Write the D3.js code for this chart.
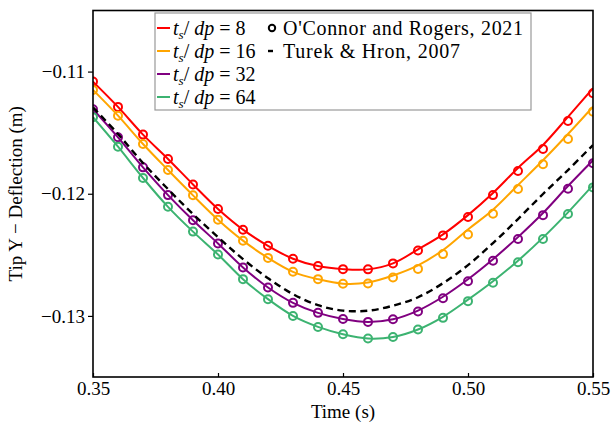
<!DOCTYPE html>
<html>
<head>
<meta charset="utf-8">
<script src="https://d3js.org/d3.v7.min.js"></script>
<style>
    body { margin: 0; background: #fff; }
    text { font-family: "Liberation Serif", "DejaVu Serif", serif; }
</style>
</head>
<body>
<div class="chart"></div>
<script>
// sample times (s)
var times = [0.35, 0.36, 0.37, 0.38, 0.39, 0.40, 0.41, 0.42, 0.43, 0.44, 0.45,
    0.46, 0.47, 0.48, 0.49, 0.50, 0.51, 0.52, 0.53, 0.54, 0.55];

// simulation lines, tip y deflection (m)
var line8 = [-0.11082, -0.11289, -0.11516, -0.11715, -0.11924, -0.12125, -0.12294, -0.12426, -0.12532, -0.12592, -0.12617,
    -0.12619, -0.12570, -0.12456, -0.12333, -0.12175, -0.11994, -0.11789, -0.11601, -0.11371, -0.11136];
var line16 = [-0.11150, -0.11361, -0.11593, -0.11806, -0.12013, -0.12212, -0.12384, -0.12525, -0.12639, -0.12699, -0.12736,
    -0.12726, -0.12669, -0.12586, -0.12461, -0.12292, -0.12131, -0.11929, -0.11726, -0.11511, -0.11287];
var line32 = [-0.11308, -0.11538, -0.11784, -0.12011, -0.12217, -0.12407, -0.12603, -0.12767, -0.12893, -0.12975, -0.13025,
    -0.13049, -0.13027, -0.12956, -0.12843, -0.12700, -0.12536, -0.12355, -0.12158, -0.11937, -0.11726];
var line64 = [-0.11374, -0.11615, -0.11871, -0.12107, -0.12310, -0.12497, -0.12699, -0.12863, -0.13000, -0.13090, -0.13150,
    -0.13185, -0.13172, -0.13111, -0.13007, -0.12867, -0.12716, -0.12548, -0.12359, -0.12152, -0.11929];

// O'Connor and Rogers, 2021 (circles)
var circles8 = [-0.11082, -0.11289, -0.11516, -0.11715, -0.11924, -0.12125, -0.12294, -0.12426, -0.12532, -0.12592, -0.12617,
    -0.12619, -0.12570, -0.12464, -0.12341, -0.12191, -0.12011, -0.11814, -0.11634, -0.11404, -0.11177];
var circles16 = [-0.11150, -0.11361, -0.11593, -0.11806, -0.12013, -0.12212, -0.12384, -0.12525, -0.12639, -0.12699, -0.12736,
    -0.12734, -0.12685, -0.12615, -0.12494, -0.12333, -0.12164, -0.11961, -0.11759, -0.11552, -0.11328];
var circles32 = [-0.11308, -0.11538, -0.11784, -0.12011, -0.12217, -0.12407, -0.12603, -0.12767, -0.12893, -0.12975, -0.13025,
    -0.13049, -0.13027, -0.12964, -0.12855, -0.12716, -0.12549, -0.12371, -0.12175, -0.11959, -0.11751];
var circles64 = [-0.11374, -0.11615, -0.11871, -0.12107, -0.12310, -0.12497, -0.12699, -0.12863, -0.13000, -0.13090, -0.13150,
    -0.13185, -0.13172, -0.13111, -0.13016, -0.12879, -0.12728, -0.12560, -0.12371, -0.12166, -0.11948];

// Turek & Hron, 2007 (dashed)
var turekHron = [-0.11293, -0.11511, -0.11748, -0.11962, -0.12167, -0.12355, -0.12535, -0.12691, -0.12822, -0.12912, -0.12957,
    -0.12957, -0.12916, -0.12847, -0.12732, -0.12584, -0.12404, -0.12207, -0.12002, -0.11806, -0.11601];

var resolutions = [`8`, `16`, `32`, `64`];
var colors = [`#ff0000`, `#ffa500`, `#800080`, `#3cb371`];
var xTicks = [0.35, 0.40, 0.45, 0.50, 0.55];
var yTicks = [-0.13, -0.12, -0.11];

var series = [
    {res: resolutions[0], color: colors[0], line: line8, points: circles8},
    {res: resolutions[1], color: colors[1], line: line16, points: circles16},
    {res: resolutions[2], color: colors[2], line: line32, points: circles32},
    {res: resolutions[3], color: colors[3], line: line64, points: circles64}
];

var margin = {top: 10.5, bottom: 47, left: 93, right: 20};
var fullWidth = 613;
var fullHeight = 424;
var width = fullWidth - margin.left - margin.right;
var height = fullHeight - margin.top - margin.bottom;

var svg = d3.select(`.chart`)
    .append(`svg`)
    .attr(`width`, fullWidth)
    .attr(`height`, fullHeight)
    .append(`g`)
    .attr(`transform`, `translate(${margin.left},${margin.top})`);

var xScale = d3.scaleLinear()
    .domain([0.35, 0.55])
    .range([0, width]);

var yScale = d3.scaleLinear()
    .domain([-0.135, -0.105])
    .range([height, 0]);

svg.append(`clipPath`)
    .attr(`id`, `plot-clip`)
    .append(`rect`)
    .attr(`width`, width)
    .attr(`height`, height);

var plot = svg.append(`g`).attr(`clip-path`, `url(#plot-clip)`);

var line = d3.line()
    .x((d, i) => xScale(times[i]))
    .y(d => yScale(d))
    .curve(d3.curveCatmullRom);

series.forEach(s => {
    plot.append(`path`)
        .datum(s.line)
        .attr(`d`, line)
        .attr(`fill`, `none`)
        .attr(`stroke`, s.color)
        .attr(`stroke-width`, 2);

    plot.selectAll(null)
        .data(s.points)
        .enter()
        .append(`circle`)
        .attr(`cx`, (d, i) => xScale(times[i]))
        .attr(`cy`, d => yScale(d))
        .attr(`r`, 4)
        .attr(`fill`, `none`)
        .attr(`stroke`, s.color)
        .attr(`stroke-width`, 2);
});

plot.append(`path`)
    .datum(turekHron)
    .attr(`d`, line)
    .attr(`fill`, `none`)
    .attr(`stroke`, `#000`)
    .attr(`stroke-width`, 2.4)
    .attr(`stroke-dasharray`, `7,4.5`);

// axes
var xAxis = d3.axisBottom(xScale)
    .tickValues(xTicks)
    .tickSize(-4)
    .tickPadding(5)
    .tickFormat(d3.format(`.2f`));

var yAxis = d3.axisLeft(yScale)
    .tickValues(yTicks)
    .tickSize(5)
    .tickPadding(3)
    .tickFormat(d3.format(`.2f`));

svg.append(`g`)
    .attr(`transform`, `translate(0, ${height})`)
    .call(xAxis)
    .call(g => g.select(`.domain`).remove())
    .call(g => g.selectAll(`line`).attr(`stroke-width`, 1.2))
    .selectAll(`text`)
    .attr(`fill`, `#000`)
    .style(`font-size`, `19px`)
    .style(`font-family`, `"Liberation Serif", serif`);

svg.append(`g`)
    .call(yAxis)
    .call(g => g.select(`.domain`).remove())
    .call(g => g.selectAll(`line`).attr(`stroke-width`, 1.2))
    .selectAll(`text`)
    .attr(`fill`, `#000`)
    .style(`font-size`, `19px`)
    .style(`font-family`, `"Liberation Serif", serif`);

svg.append(`rect`)
    .attr(`width`, width)
    .attr(`height`, height)
    .attr(`fill`, `none`)
    .attr(`stroke`, `#000`)
    .attr(`stroke-width`, 1.6);

svg.append(`text`)
    .attr(`x`, width / 2)
    .attr(`y`, height + 41)
    .attr(`text-anchor`, `middle`)
    .style(`font-size`, `19px`)
    .text(`Time (s)`);

svg.append(`text`)
    .attr(`transform`, `translate(${-71},${height / 2}) rotate(-90)`)
    .attr(`text-anchor`, `middle`)
    .style(`font-size`, `19px`)
    .text(`Tip Y \u2212 Deflection (m)`);

// legend
var legend = svg.append(`g`)
    .attr(`transform`, `translate(${155 - margin.left},${13 - margin.top})`);

legend.append(`rect`)
    .attr(`width`, 376)
    .attr(`height`, 97)
    .attr(`fill`, `#fff`)
    .attr(`stroke`, `#999`)
    .attr(`stroke-width`, 1.2);

var rowY = i => 15 + i * 23;

series.forEach((s, i) => {
    legend.append(`line`)
        .attr(`x1`, 2).attr(`x2`, 15)
        .attr(`y1`, rowY(i)).attr(`y2`, rowY(i))
        .attr(`stroke`, s.color)
        .attr(`stroke-width`, 2);

    var t = legend.append(`text`)
        .attr(`x`, 18)
        .attr(`y`, rowY(i))
        .attr(`dy`, `0.35em`)
        .style(`font-size`, `20px`);
    t.append(`tspan`).style(`font-style`, `italic`).text(`t`);
    t.append(`tspan`).style(`font-style`, `italic`).style(`font-size`, `13px`).attr(`dy`, 4).text(`s`);
    t.append(`tspan`).attr(`dy`, -4).text(`/ `);
    t.append(`tspan`).style(`font-style`, `italic`).text(`dp`);
    t.append(`tspan`).text(` = ${s.res}`);
});

legend.append(`circle`)
    .attr(`cx`, 117)
    .attr(`cy`, rowY(0))
    .attr(`r`, 3.2)
    .attr(`fill`, `none`)
    .attr(`stroke`, `#000`)
    .attr(`stroke-width`, 2);

legend.append(`text`)
    .attr(`x`, 128)
    .attr(`y`, rowY(0))
    .attr(`dy`, `0.35em`)
    .attr(`textLength`, 240)
    .style(`font-size`, `20px`)
    .text(`O'Connor and Rogers, 2021`);

legend.append(`line`)
    .attr(`x1`, 113).attr(`x2`, 118)
    .attr(`y1`, rowY(1)).attr(`y2`, rowY(1))
    .attr(`stroke`, `#000`)
    .attr(`stroke-width`, 2.4);

legend.append(`text`)
    .attr(`x`, 128)
    .attr(`y`, rowY(1))
    .attr(`dy`, `0.35em`)
    .attr(`textLength`, 177)
    .style(`font-size`, `20px`)
    .text(`Turek & Hron, 2007`);
</script>
</body>
</html>
